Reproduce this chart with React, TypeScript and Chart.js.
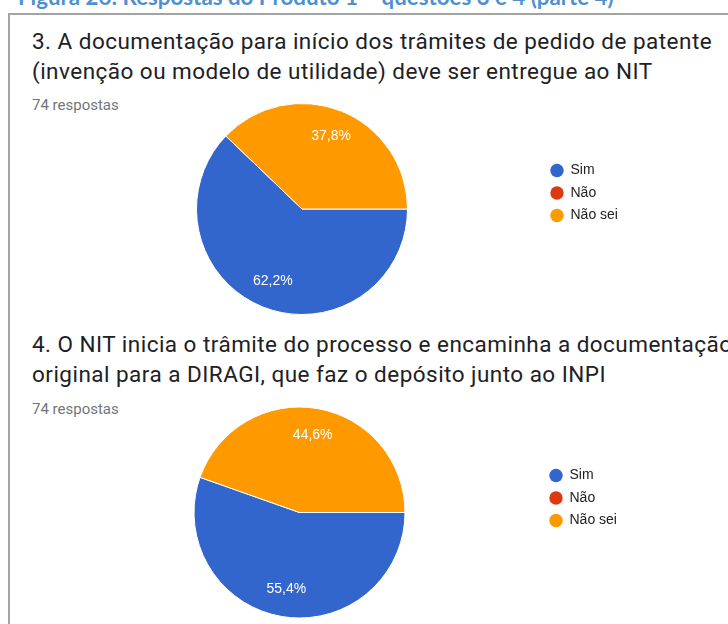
import React, { useEffect, useRef } from 'react';
import { Chart, registerables } from 'chart.js';

Chart.register(...registerables);

// ---- data ----
const FIGURE_CAPTION = 'Figura 26: Respostas do Produto 1 – questões 3 e 4 (parte 4)';
const Q3_TITLE = [
  '3. A documentação para início dos trâmites de pedido de patente',
  '(invenção ou modelo de utilidade) deve ser entregue ao NIT',
];
const Q4_TITLE = [
  '4. O NIT inicia o trâmite do processo e encaminha a documentação',
  'original para a DIRAGI, que faz o depósito junto ao INPI',
];
const RESPONSES = '74 respostas';
const ANSWERS = ['Sim', 'Não', 'Não sei'];
const Q3_COUNTS = [46, 0, 28];
const Q4_COUNTS = [41, 0, 33];
const COLORS = ['#3366CC', '#DC3912', '#FF9900'];

const LABEL_FONT = '"Liberation Sans", Arial, sans-serif';
const LEGEND_FONT_SIZE = 14;
const LEGEND_PAD = 8.5;
const LEGEND_BOX = 13;
const CANVAS_EXTRA = 80;

const pctLabels = {
  id: 'pctLabels',
  afterDatasetsDraw(chart: any) {
    const meta = chart.getDatasetMeta(0);
    const data: number[] = chart.data.datasets[0].data;
    const total = data.reduce((a, b) => a + b, 0);
    const ctx = chart.ctx;
    ctx.save();
    ctx.fillStyle = '#ffffff';
    ctx.font = '14px ' + LABEL_FONT;
    ctx.textAlign = 'center';
    ctx.textBaseline = 'middle';
    meta.data.forEach((arc: any, i: number) => {
      const v = data[i];
      if (!v) return;
      const { x, y, startAngle, endAngle, outerRadius } = arc.getProps(
        ['x', 'y', 'startAngle', 'endAngle', 'outerRadius'],
        true
      );
      const mid = (startAngle + endAngle) / 2;
      const d = outerRadius * 0.74;
      const txt = ((v / total) * 100).toFixed(1).replace('.', ',') + '%';
      ctx.fillText(txt, x + Math.cos(mid) * d, y + Math.sin(mid) * d);
    });
    ctx.restore();
  },
};

type PieProps = {
  counts: number[];
  left: number;
  top: number;
  legendLeft: number; // x of legend box, relative to canvas
  height: number;
  gapTop: number;
};

function Pie({ counts, left, top, legendLeft, height, gapTop }: PieProps) {
  const ref = useRef<HTMLCanvasElement | null>(null);
  const fullWidth = legendLeft + 100 + CANVAS_EXTRA;
  useEffect(() => {
    if (!ref.current) return;
    const mctx = document.createElement('canvas').getContext('2d')!;
    mctx.font = `${LEGEND_FONT_SIZE}px ${LABEL_FONT}`;
    const tw = Math.max(...ANSWERS.map((a) => mctx.measureText(a).width));
    const legendW = LEGEND_PAD + LEGEND_BOX + LEGEND_FONT_SIZE / 2 + tw + 10;
    const padRight = Math.max(0, fullWidth - legendLeft - legendW);
    const chart = new Chart(ref.current, {
      type: 'pie',
      data: {
        labels: ANSWERS,
        datasets: [
          {
            data: counts,
            backgroundColor: COLORS,
            borderColor: '#ffffff',
            borderWidth: 1,
            hoverOffset: 0,
            radius: 105.5,
            rotation: 90,
            clip: false,
          } as any,
        ],
      },
      options: {
        responsive: false,
        animation: false,
        events: [],
        layout: { padding: { left: 0, top: 0, bottom: 0, right: padRight } },
        plugins: {
          title: {
            display: true,
            text: '',
            fullSize: false,
            position: 'top',
            font: { size: 10, lineHeight: 1 },
            padding: { top: gapTop - 10, bottom: 0 },
          },
          tooltip: { enabled: false },
          legend: {
            position: 'right',
            align: 'center',
            labels: {
              usePointStyle: true,
              boxWidth: LEGEND_BOX,
              boxHeight: 9.5,
              padding: LEGEND_PAD,
              color: '#222222',
              font: { size: LEGEND_FONT_SIZE, family: LABEL_FONT },
              generateLabels: (c: any) =>
                (c.data.labels as string[]).map((text, i) => ({
                  text,
                  fillStyle: COLORS[i],
                  strokeStyle: COLORS[i],
                  lineWidth: 0,
                  pointStyle: 'circle',
                  hidden: !c.getDataVisibility(i),
                  index: i,
                  fontColor: '#222222',
                })),
            },
          },
        },
      } as any,
      plugins: [pctLabels],
    });
    return () => chart.destroy();
  }, [counts, gapTop, legendLeft, fullWidth]);
  return (
    <canvas
      ref={ref}
      width={fullWidth}
      height={height}
      style={{ position: 'absolute', left, top, width: fullWidth, height }}
    />
  );
}

const qStyle: React.CSSProperties = {
  position: 'absolute',
  left: 32,
  fontFamily: 'Roboto, sans-serif',
  fontSize: 22.5,
  lineHeight: '22.5px',
  letterSpacing: '0.47px',
  color: '#202124',
  whiteSpace: 'nowrap',
};
const rStyle: React.CSSProperties = {
  position: 'absolute',
  left: 32,
  fontFamily: 'Roboto, sans-serif',
  fontSize: 15,
  lineHeight: '15px',
  color: '#70757a',
  whiteSpace: 'nowrap',
};

export default function App() {
  return (
    <div
      style={{
        position: 'fixed',
        left: 0,
        top: 0,
        width: 728,
        height: 624,
        background: '#ffffff',
        overflow: 'hidden',
      }}
    >
      <div
        style={{
          position: 'absolute',
          left: 18,
          top: -14,
          fontFamily: 'Lato, sans-serif',
          fontWeight: 700,
          fontSize: 22.3,
          lineHeight: '22px',
          color: '#4f8fd1',
          whiteSpace: 'nowrap',
        }}
      >
        {FIGURE_CAPTION}
      </div>
      <div
        style={{
          position: 'absolute',
          left: 8,
          top: 13,
          width: 800,
          height: 700,
          borderLeft: '2px solid #a3a3a3',
          borderTop: '2px solid #a3a3a3',
        }}
      />
      <div style={{ ...qStyle, top: 30 }}>{Q3_TITLE[0]}</div>
      <div style={{ ...qStyle, top: 60 }}>{Q3_TITLE[1]}</div>
      <div style={{ ...rStyle, top: 98 }}>{RESPONSES}</div>
      <Pie counts={Q3_COUNTS} left={62} top={68} legendLeft={480} height={250} gapTop={32} />
      <div style={{ ...qStyle, top: 333 }}>{Q4_TITLE[0]}</div>
      <div style={{ ...qStyle, top: 363 }}>{Q4_TITLE[1]}</div>
      <div style={{ ...rStyle, top: 402 }}>{RESPONSES}</div>
      <Pie counts={Q4_COUNTS} left={58} top={373} legendLeft={483} height={250} gapTop={29} />
    </div>
  );
}
